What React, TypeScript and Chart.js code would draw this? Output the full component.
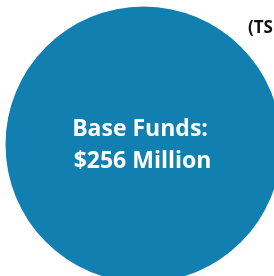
import React, { useEffect, useRef } from "react";
import { Chart, registerables } from "chart.js";

Chart.register(...registerables);

const categories = ["Base Funds"];
const values = [256];
const centerLines = ["Base Funds:", "$256 Million"];
const cornerLabel = "(TS";

const textPlugin = {
  id: "centerText",
  afterDraw(chart: any) {
    const ctx = chart.ctx;
    ctx.save();
    ctx.fillStyle = "#ffffff";
    ctx.font = "bold 23px 'Open Sans'";
    ctx.textAlign = "center";
    ctx.textBaseline = "alphabetic";
    ctx.fillText(centerLines[0], 140, 136);
    ctx.fillText(centerLines[1], 142.5, 167.5);
    ctx.fillStyle = "#111111";
    ctx.font = "bold 17px 'Open Sans'";
    ctx.textAlign = "left";
    ctx.fillText(cornerLabel, 248, 32.5);
    ctx.restore();
  },
};

export default function App() {
  const ref = useRef<HTMLCanvasElement>(null);
  useEffect(() => {
    document.body.style.margin = "0";
    const chart = new Chart(ref.current!, {
      type: "pie",
      data: {
        labels: categories,
        datasets: [
          {
            data: values,
            backgroundColor: ["#117faf"],
            borderWidth: 0,
          },
        ],
      },
      options: {
        responsive: false,
        animation: false,
        layout: { padding: { left: 5.5, top: 6.5, right: 18.5, bottom: 17.5 } },
        plugins: {
          legend: { display: false },
          tooltip: { enabled: false },
          title: { display: false },
        },
      },
      plugins: [textPlugin],
    });
    return () => chart.destroy();
  }, []);
  return (
    <div style={{ position: "fixed", left: 0, top: 0, width: 274, height: 276, overflow: "hidden", background: "#fff" }}>
      <canvas ref={ref} width={300} height={300} style={{ display: "block" }} />
    </div>
  );
}
